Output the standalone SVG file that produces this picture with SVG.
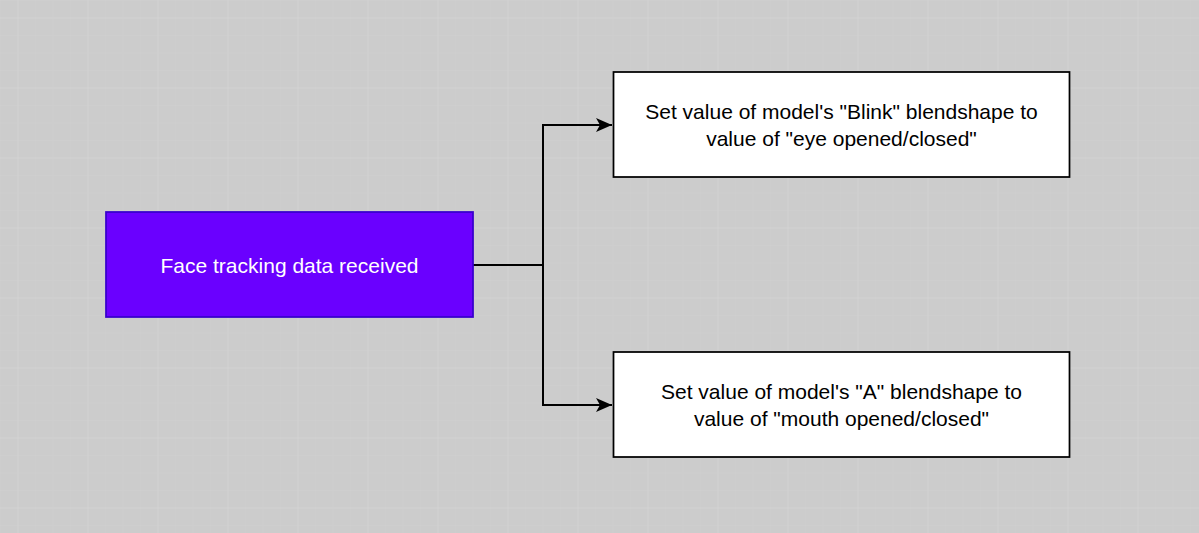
<svg xmlns="http://www.w3.org/2000/svg" width="1199" height="533" viewBox="0 0 1199 533">
<defs>
<pattern id="minor" x="17.5" y="17.5" width="17.5" height="17.5" patternUnits="userSpaceOnUse">
<path d="M0 0H17.5M0 0V17.5" fill="none" stroke="#cfcfcf" stroke-width="1"/>
</pattern>
<pattern id="major" x="17.5" y="17.5" width="70" height="70" patternUnits="userSpaceOnUse">
<path d="M0 0H70M0 0V70" fill="none" stroke="#d5d5d5" stroke-width="1"/>
</pattern>
<marker id="arr" viewBox="0 0 16 14" refX="16" refY="7" markerWidth="16" markerHeight="14" markerUnits="userSpaceOnUse" orient="auto">
<path d="M0 0L16 7L0 14L4 7Z" fill="#000"/>
</marker>
<style>
.box{fill:#fff;stroke:#000;stroke-width:1.75}
.t{font-family:"Liberation Sans",Arial,sans-serif;font-size:21px;text-anchor:middle;fill:#000}
.edge{fill:none;stroke:#000;stroke-width:2}
</style>
</defs>
<rect width="1199" height="533" fill="#cccccc"/>
<rect width="1199" height="533" fill="url(#minor)"/>
<rect width="1199" height="533" fill="url(#major)"/>
<g id="connectors">
<path class="edge" d="M473 265H543V125H612" marker-end="url(#arr)"/>
<path class="edge" d="M543 265V405H612" marker-end="url(#arr)"/>
</g>
<g id="face">
<rect x="106" y="212" width="367" height="105" fill="#6a00ff" stroke="#3700cc" stroke-width="1.75"/>
<text class="t" x="289.5" y="272.5" style="fill:#fff">Face tracking data received</text>
</g>
<g id="blink">
<rect class="box" x="613.5" y="72" width="456" height="105"/>
<text class="t" x="841.5" y="119">Set value of model's "Blink" blendshape to</text>
<text class="t" x="841.5" y="145.5">value of "eye opened/closed"</text>
</g>
<g id="mouth">
<rect class="box" x="613.5" y="352" width="456" height="105"/>
<text class="t" x="841.5" y="399">Set value of model's "A" blendshape to</text>
<text class="t" x="841.5" y="425.5">value of "mouth opened/closed"</text>
</g>
</svg>
